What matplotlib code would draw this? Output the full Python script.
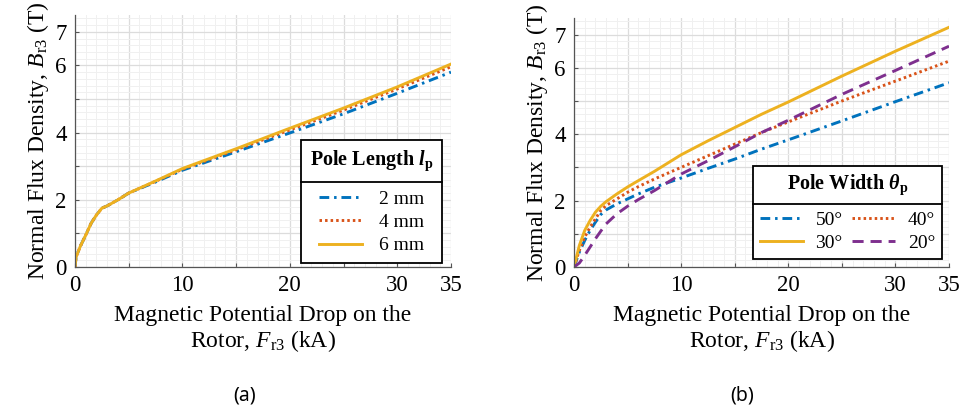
import matplotlib
matplotlib.use("Agg")
import matplotlib.pyplot as plt
from matplotlib.ticker import MultipleLocator, FixedLocator
from matplotlib.lines import Line2D
import numpy as np

plt.rcParams['font.family'] = ['Liberation Serif', 'DejaVu Serif']
plt.rcParams['mathtext.fontset'] = 'custom'
plt.rcParams['mathtext.rm'] = 'Liberation Serif'
plt.rcParams['mathtext.it'] = 'Liberation Serif:italic'
plt.rcParams['mathtext.bf'] = 'Liberation Serif:bold'
plt.rcParams['mathtext.bfit'] = 'Liberation Serif:bold:italic'
plt.rcParams['lines.scale_dashes'] = False

# ---------------- data ----------------
# (a) Pole length
xa = [0, 0.1, 0.5, 1, 1.5, 2, 2.5, 3, 4, 5, 7.5, 10, 15, 20, 25, 30, 35]
ya_2mm = [0, 0.3, 0.62, 0.95, 1.3, 1.55, 1.75, 1.82, 2.0, 2.2, 2.53, 2.88, 3.43, 3.99, 4.56, 5.17, 5.8]
ya_4mm = [0, 0.3, 0.62, 0.95, 1.3, 1.55, 1.75, 1.82, 2.0, 2.2, 2.55, 2.91, 3.49, 4.08, 4.67, 5.3, 5.96]
ya_6mm = [0, 0.3, 0.62, 0.95, 1.3, 1.55, 1.75, 1.82, 2.0, 2.2, 2.56, 2.93, 3.52, 4.13, 4.73, 5.36, 6.04]
labels_a = ['2 mm', '4 mm', '6 mm']

# (b) Pole width
xb = [0, 0.5, 1, 1.5, 2, 2.5, 3, 4, 5, 6, 7.5, 10, 12.5, 15, 17.5, 20, 25, 30, 35]
yb_50 = [0, 0.45, 0.8, 1.1, 1.35, 1.58, 1.72, 1.9, 2.05, 2.2, 2.4, 2.68, 2.97, 3.25, 3.55, 3.83, 4.4, 4.98, 5.55]
yb_40 = [0, 0.5, 0.9, 1.2, 1.45, 1.7, 1.85, 2.05, 2.25, 2.42, 2.65, 3.0, 3.35, 3.7, 4.05, 4.37, 5.0, 5.6, 6.2]
yb_30 = [0, 0.65, 1.1, 1.4, 1.65, 1.83, 1.97, 2.2, 2.41, 2.6, 2.88, 3.38, 3.8, 4.2, 4.6, 4.97, 5.75, 6.5, 7.22]
yb_20 = [0, 0.12, 0.35, 0.6, 0.85, 1.08, 1.3, 1.6, 1.83, 2.03, 2.3, 2.8, 3.2, 3.62, 4.05, 4.42, 5.2, 5.92, 6.65]
labels_b = ['50°', '40°', '30°', '20°']

xticks = [0, 5, 10, 15, 20, 25, 30, 35]
xticklabels = ['0', '', '10', '', '20', '', '30', '35']
yticks = [0, 1, 2, 3, 4, 5, 6, 7]
yticklabels = ['0', '', '2', '', '4', '', '6', '7']

BLUE = '#0072BD'
RED = '#D95319'
YEL = '#EDB120'
PUR = '#7E2F8E'
LW = 2.1
DASHDOT = (0, (7, 3.5, 1.8, 3.5))
DOT = (0, (1.8, 2.2))
DASH = (0, (8, 5))

fig = plt.figure(figsize=(9.64, 4.09), dpi=100)
axA = fig.add_axes([75/964, 1-267/409, 376/964, 252/409])
axB = fig.add_axes([574/964, 1-267/409, 375/964, 249/409])


def style(ax):
    ax.set_xlim(0, 35)
    ax.set_ylim(0, 7.5)
    ax.xaxis.set_major_locator(FixedLocator(xticks))
    ax.set_xticklabels(xticklabels)
    ax.yaxis.set_major_locator(FixedLocator(yticks))
    ax.set_yticklabels(yticklabels)
    ax.xaxis.set_minor_locator(MultipleLocator(1))
    ax.yaxis.set_minor_locator(MultipleLocator(0.2))
    ax.grid(which='major', color='#dcdcdc', lw=0.9)
    ax.grid(which='minor', color='#f0f0f0', lw=0.7)
    ax.set_axisbelow(True)
    for s in ['top', 'right']:
        ax.spines[s].set_visible(False)
    for s in ['left', 'bottom']:
        ax.spines[s].set_color('#555555')
        ax.spines[s].set_linewidth(0.9)
    ax.tick_params(which='major', direction='in', length=3, width=0.8,
                   color='#555555', labelsize=16.5, pad=6)
    ax.tick_params(which='minor', length=0)
    ax.set_xlabel('Magnetic Potential Drop on the\nRotor, $F_{\\mathrm{r3}}$ (kA)',
                  fontsize=17, labelpad=6, linespacing=1.15)
    ax.set_ylabel('Normal Flux Density, $B_{\\mathrm{r3}}$ (T)', fontsize=17, labelpad=3)


style(axA)
style(axB)

# (a)
axA.plot(xa, ya_2mm, color=BLUE, lw=LW, ls=DASHDOT, label=labels_a[0])
axA.plot(xa, ya_4mm, color=RED, lw=LW, ls=DOT, label=labels_a[1])
axA.plot(xa, ya_6mm, color=YEL, lw=LW, ls='-', label=labels_a[2])

# (b)
l50, = axB.plot(xb, yb_50, color=BLUE, lw=LW, ls=DASHDOT, label=labels_b[0])
l40, = axB.plot(xb, yb_40, color=RED, lw=LW, ls=DOT, label=labels_b[1])
l30, = axB.plot(xb, yb_30, color=YEL, lw=LW, ls='-', label=labels_b[2])
l20, = axB.plot(xb, yb_20, color=PUR, lw=LW, ls=DASH, label=labels_b[3])

legA = axA.legend(title='Pole Length $\\mathbfit{l}_{\\mathbf{p}}$',
                  loc='upper right', bbox_to_anchor=(442/964, 1-140/409),
                  bbox_transform=fig.transFigure,
                  fontsize=14, title_fontproperties={'weight': 'bold', 'size': 14.5},
                  fancybox=False, edgecolor='black', framealpha=1,
                  handlelength=2.2, handletextpad=0.9, borderpad=0.45,
                  labelspacing=0.3, borderaxespad=0)
legA.get_frame().set_linewidth(1.3)
legA._legend_box.sep = 12

legB = axB.legend([l50, l30, l40, l20], [labels_b[0], labels_b[2], labels_b[1], labels_b[3]],
                  title='Pole Width $\\mathbfit{\\theta}_{\\mathbf{p}}$', ncol=2,
                  loc='upper right', bbox_to_anchor=(942/964, 1-166/409),
                  bbox_transform=fig.transFigure,
                  fontsize=14, title_fontproperties={'weight': 'bold', 'size': 14.5},
                  fancybox=False, edgecolor='black', framealpha=1,
                  handlelength=2.2, handletextpad=0.65, columnspacing=0.5,
                  borderpad=0.35, labelspacing=0.3, borderaxespad=0)
legB.get_frame().set_linewidth(1.3)
legB._legend_box.sep = 10

fig.text(245/964, 1-395/409, '(a)', fontsize=14, family=['Noto Sans', 'DejaVu Sans'],
         ha='center', va='center')
fig.text(742/964, 1-395/409, '(b)', fontsize=14, family=['Noto Sans', 'DejaVu Sans'],
         ha='center', va='center')

# separator line between legend title and entries
fig.canvas.draw()
r = fig.canvas.get_renderer()
inv = fig.transFigure.inverted()
for leg in (legA, legB):
    fb = leg.get_frame().get_window_extent(r)
    tb = leg.get_title().get_window_extent(r)
    hb = leg._legend_handle_box.get_window_extent(r)
    ysep = 0.5 * (tb.y0 + hb.y1)
    (x0, y0), (x1, _) = inv.transform([(fb.x0, ysep), (fb.x1, ysep)])
    fig.add_artist(Line2D([x0, x1], [y0, y0], transform=fig.transFigure,
                          color='black', lw=1.3, zorder=10))

fig.savefig('out.png', dpi=100)
